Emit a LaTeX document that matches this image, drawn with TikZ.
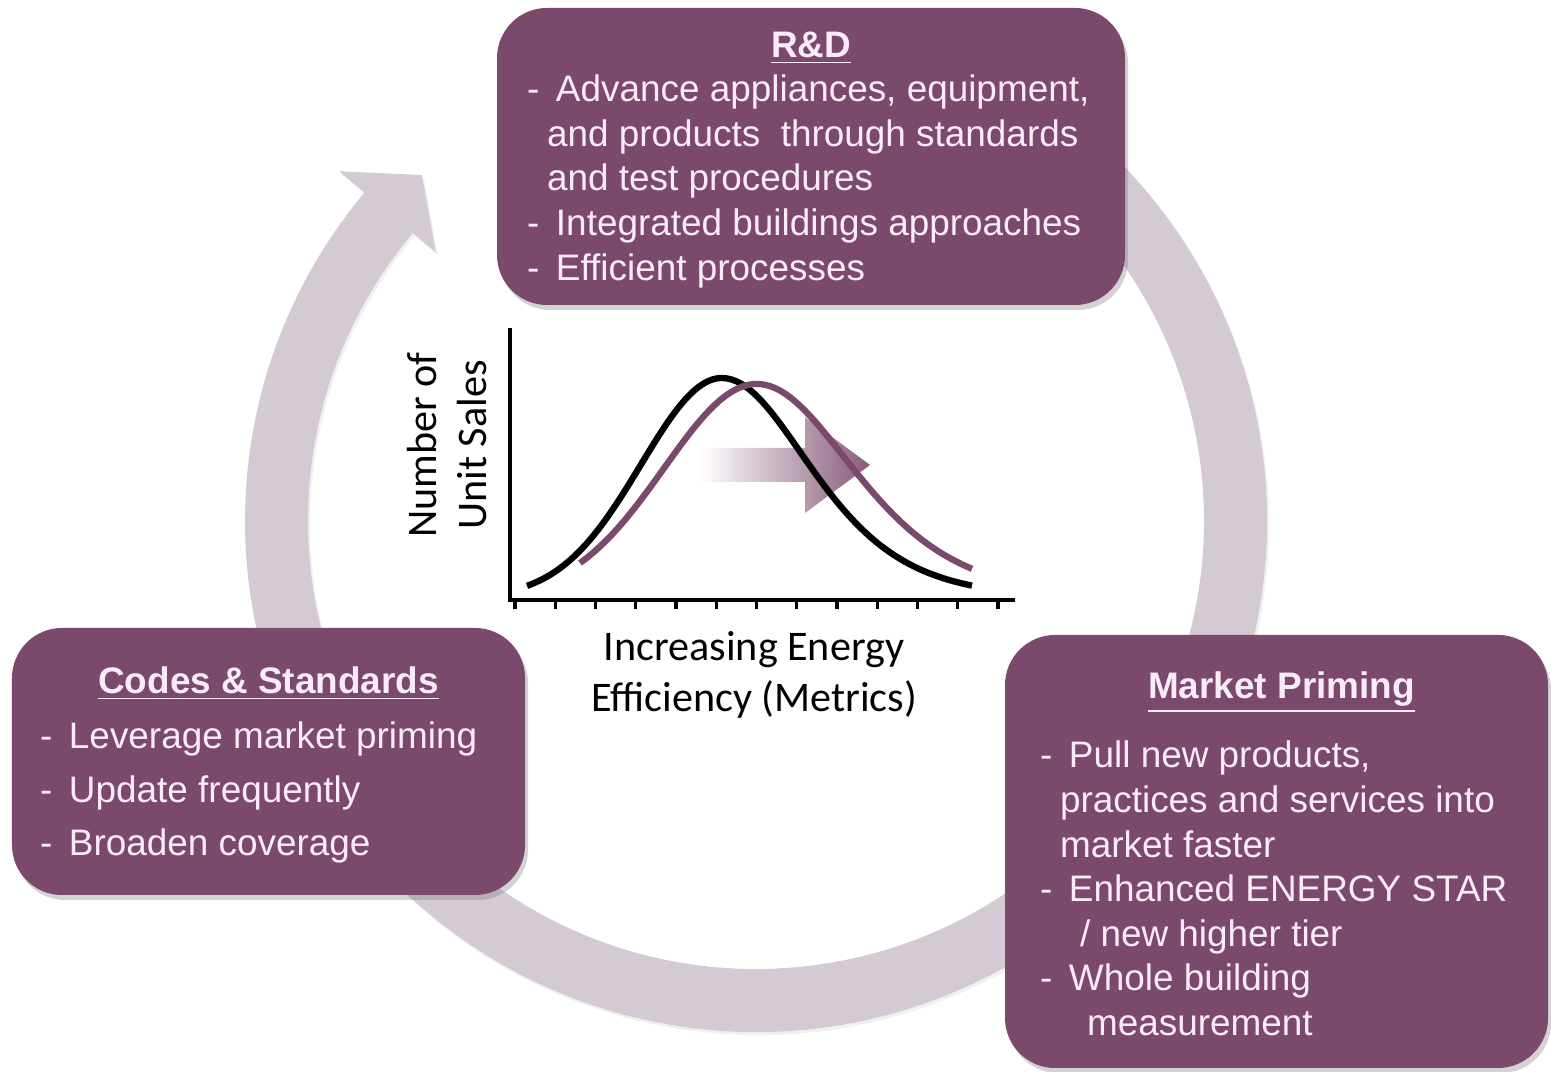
\documentclass[tikz,border=0pt]{standalone}
\usepackage{fontspec}
\setmainfont{Liberation Sans}
\newfontfamily\chartfont{Carlito}
\usetikzlibrary{positioning, shadows}

\definecolor{plum}{RGB}{122,73,108}
\definecolor{ringgray}{RGB}{212,202,211}
\definecolor{paletext}{RGB}{250,236,246}
\newcommand{\itemdash}{\makebox[0.29cm][l]{-}}

\begin{document}
\begin{tikzpicture}[
  ring/.style={fill=ringgray, drop shadow={opacity=0.12, shadow xshift=0.02cm, shadow yshift=-0.03cm}},
  box/.style={rounded corners=0.5cm, fill=plum, inner sep=0pt,
    drop shadow={opacity=0.35, shadow xshift=0.03cm, shadow yshift=-0.05cm}},
  boxtitle/.style={text=paletext, font=\fontsize{10.5}{12.6}\selectfont\bfseries, inner sep=0pt, anchor=base},
  boxtext/.style={text=paletext, font=\fontsize{10.5}{12.7}\selectfont, align=left, inner sep=0pt},
  chartlabel/.style={font=\chartfont\fontsize{12}{14.5}\selectfont, align=center, inner sep=0pt},
  axis/.style={line width=0.9pt},
  salescurve/.style={line width=1.8pt},
]
  \useasboundingbox (0,0) rectangle (15.51,10.72);

  % cycle arrow
  \begin{scope}[shift={(7.56,5.51)}]
    \fill[ring] (75:5.11) arc[start angle=75, end angle=-220, radius=5.11]
      -- (140:5.44) -- (134:4.81) -- (140:4.18) -- (140:4.48)
      arc[start angle=140, end angle=435, radius=4.48] -- cycle;
  \end{scope}

  % boxes
  \node[box, minimum width=6.28cm, minimum height=2.97cm] (rd) at (8.11,9.155) {};
  \node[box, minimum width=5.13cm, minimum height=2.67cm] (cs) at (2.685,3.105) {};
  \node[box, minimum width=5.43cm, minimum height=4.33cm] (mp) at (12.765,2.205) {};

  \node[boxtitle] (rdtitle) at ([yshift=-0.50cm]rd.north) {\underline{R\&D}};
  \node[boxtext, below right=0.67cm and 0.30cm of rd.north west] (rdlist) {%
    \itemdash Advance appliances, equipment,\\
    \hspace*{0.20cm}and products\ \ through standards\\
    \hspace*{0.20cm}and test procedures\\
    \itemdash Integrated buildings approaches\\
    \itemdash Efficient processes};

  \node[boxtitle] (cstitle) at ([yshift=-0.66cm]cs.north) {\underline{Codes \& Standards}};
  \node[boxtext, font=\fontsize{10.5}{15.2}\selectfont,
    below right=0.94cm and 0.28cm of cs.north west] (cslist) {%
    \itemdash Leverage market priming\\
    \itemdash Update frequently\\
    \itemdash Broaden coverage};

  \node[boxtitle] (mptitle) at ([xshift=0.05cm, yshift=-0.64cm]mp.north) {\underline{Market Priming}};
  \node[boxtext, below right=1.06cm and 0.35cm of mp.north west] (mplist) {%
    \itemdash Pull new products,\\
    \hspace*{0.20cm}practices and services into\\
    \hspace*{0.20cm}market faster\\
    \itemdash Enhanced ENERGY STAR\\
    \hspace*{0.40cm}/ new higher tier\\
    \itemdash Whole building\\
    \hspace*{0.47cm}measurement};

  % chart
  \coordinate (org) at (5.10,4.72);
  \coordinate (ytop) at (5.10,7.44);
  \coordinate (xend) at (10.15,4.72);
  \draw[axis] (ytop) -- (org) -- (xend);
  \foreach \i in {0,...,12}
    \draw[axis] ({5.15+0.4025*\i},4.72) -- ++(0,-0.09);

  \shade[left color=white, right color=plum!90]
    (7.00,5.90) -- (8.05,5.90) -- (8.05,5.59) -- (8.70,6.07)
    -- (8.05,6.55) -- (8.05,6.24) -- (7.00,6.24) -- cycle;

  \draw[salescurve, black]
    plot[domain=5.27:7.22, samples=50] (\x,{4.74+2.20*exp(-0.5*((\x-7.22)/0.81)*((\x-7.22)/0.81))})
    -- plot[domain=7.22:9.72, samples=50] (\x,{4.74+2.20/(cosh((\x-7.22)/1.18)*cosh((\x-7.22)/1.18))});
  \draw[salescurve, plum]
    plot[domain=5.80:7.57, samples=50] (\x,{4.74+2.14*exp(-0.5*((\x-7.57)/0.93)*((\x-7.57)/0.93))})
    -- plot[domain=7.57:9.72, samples=50] (\x,{4.74+2.14/(cosh((\x-7.57)/1.30)*cosh((\x-7.57)/1.30))});

  \node[chartlabel, rotate=90] (ylab) at (4.47,6.27) {Number of\\Unit Sales};
  \node[chartlabel] (xlab) at (7.54,3.97) {Increasing Energy\\Efficiency (Metrics)};
\end{tikzpicture}
\end{document}
